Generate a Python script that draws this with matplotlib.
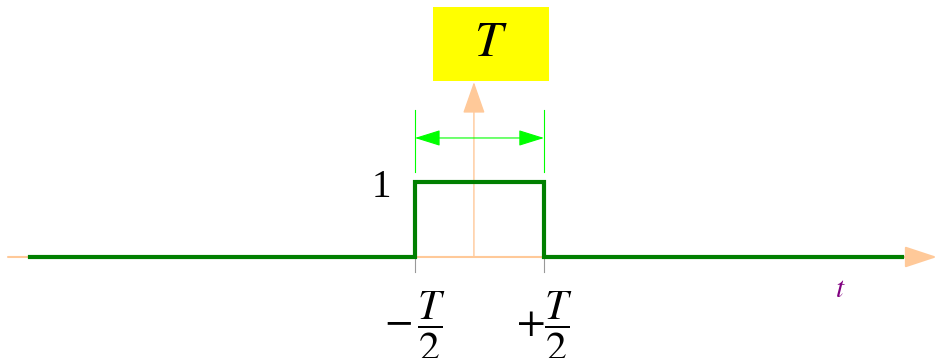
import numpy as np
import matplotlib.pyplot as plt

plt.rcParams['mathtext.fontset'] = 'stix'
plt.rcParams['font.family'] = ['Liberation Serif', 'DejaVu Serif']

# rectangular pulse of width T=1, height 1
T = 1.0
t_pts = [-3.484, -T/2, -T/2, T/2, T/2, 3.275]
y_pts = [0, 0, 1, 1, 0, 0]
tick_pos = [-T/2, T/2]
tick_labels = [r'$-\,\dfrac{T}{2}$', r'$+\dfrac{T}{2}$']

peach = '#ffc999'
green = '#007f00'
lime = '#00ff00'

fig = plt.figure(figsize=(9.37, 3.58), dpi=100)
ax = fig.add_axes([0, 0, 1, 1])
ax.set_xlim(-3.717, 3.547)
ax.set_ylim(-1.347, 3.427)
ax.axis('off')

# axes with arrows
ax.annotate('', xy=(3.547, 0), xytext=(-3.655, 0),
            arrowprops=dict(arrowstyle='-|>,head_length=1.0,head_width=0.33',
                            mutation_scale=20, color=peach, lw=1.5,
                            shrinkA=0, shrinkB=0))
ax_x = -0.043
ax.annotate('', xy=(ax_x, 2.333), xytext=(ax_x, 0),
            arrowprops=dict(arrowstyle='-|>,head_length=1.0,head_width=0.35',
                            mutation_scale=20, color=peach, lw=1,
                            shrinkA=0, shrinkB=0))

# tick marks
for p in tick_pos:
    ax.plot([p, p], [0, -0.2], color='#999999', lw=0.8)

ax.plot(t_pts, y_pts, color=green, lw=3, solid_joinstyle='miter', zorder=3)

# width dimension
for p in tick_pos:
    ax.plot([p, p], [1.133, 1.96], color=lime, lw=0.8)
ax.annotate('', xy=(tick_pos[1], 1.587), xytext=(tick_pos[0], 1.587),
            arrowprops=dict(arrowstyle='<|-|>,head_length=1.6,head_width=0.5',
                            mutation_scale=10, color=lime, lw=0.8,
                            shrinkA=0, shrinkB=0))

# label box
ax.add_patch(plt.Rectangle((-0.36, 2.347), 0.899, 0.986, color='#ffff00', lw=0))
ax.text(0.089, 2.84, '$T$', fontsize=36, ha='center', va='center')

ax.text(-0.76, 0.93, '1', fontsize=28, ha='center', va='center')
for p, lab in zip(tick_pos, tick_labels):
    ax.text(p, -0.93, lab, fontsize=30, ha='center', va='center')
ax.text(2.80, -0.44, '$t$', fontsize=21, color='#800080', ha='center', va='center')

fig.savefig('out.png', dpi=100)
